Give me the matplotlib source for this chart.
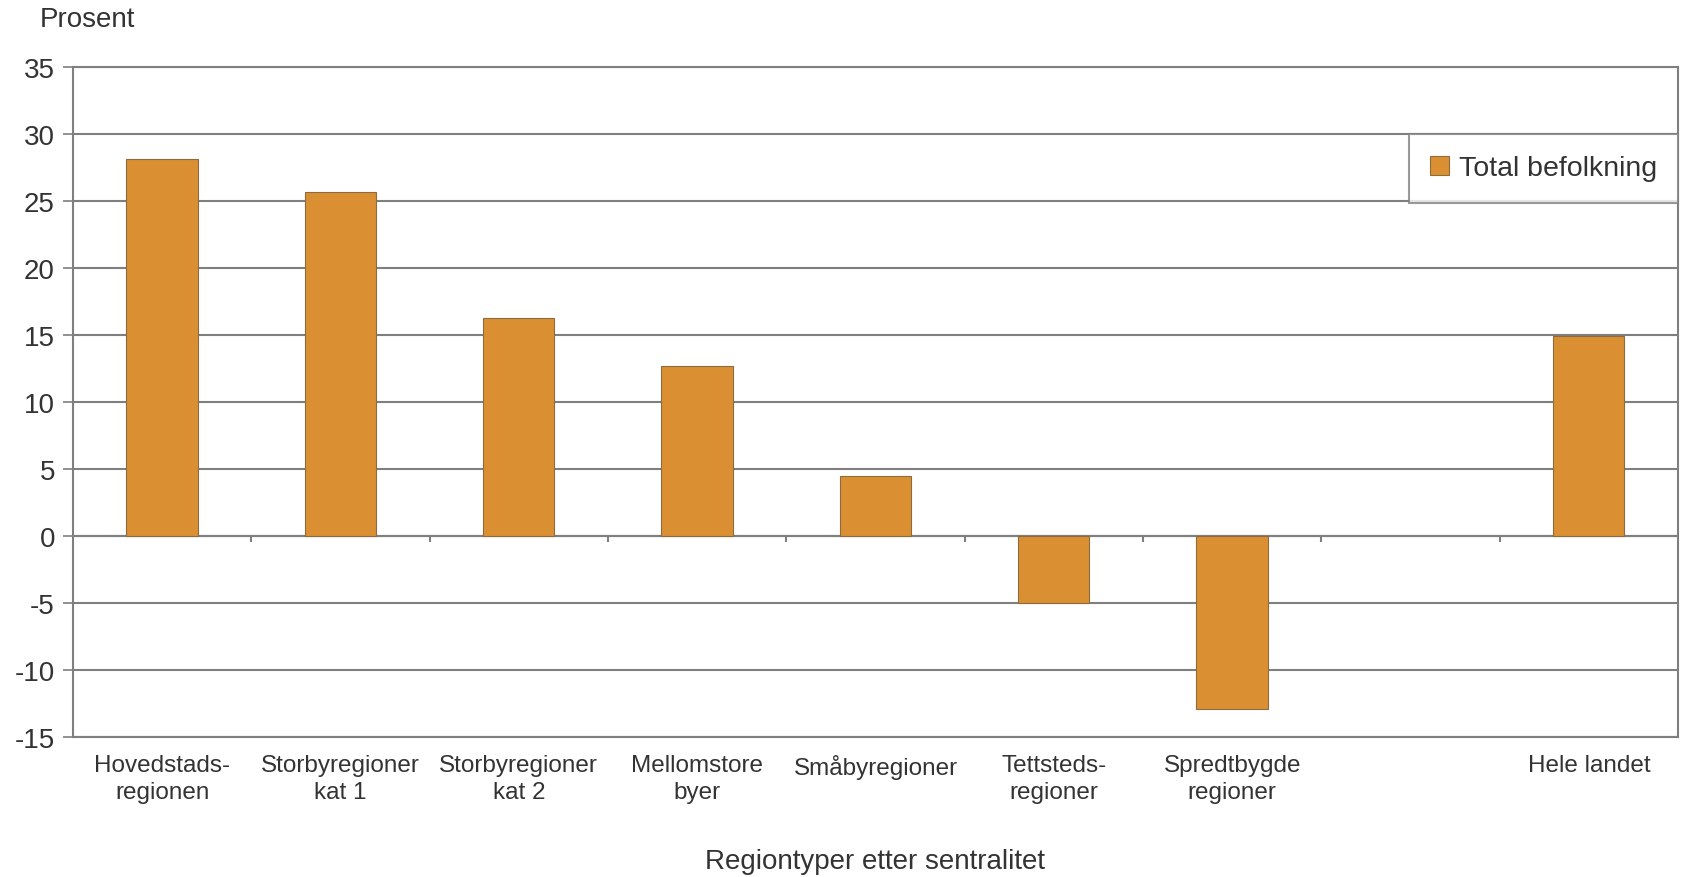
import numpy as np
import matplotlib.pyplot as plt

plt.rcParams['font.family'] = ['Liberation Sans', 'DejaVu Sans']

categories = ['Hovedstads-\nregionen', 'Storbyregioner\nkat 1', 'Storbyregioner\nkat 2',
              'Mellomstore\nbyer', 'Småbyregioner', 'Tettsteds-\nregioner',
              'Spredtbygde\nregioner', '', 'Hele landet']
values = [28.1, 25.7, 16.3, 12.7, 4.5, -5.0, -12.9, np.nan, 14.9]
yticks = [-15, -10, -5, 0, 5, 10, 15, 20, 25, 30, 35]
series_name = 'Total befolkning'

bar_color = '#DB8F33'
grid_color = '#7f7f7f'
text_color = '#333333'

fig = plt.figure(figsize=(16.83, 8.78), dpi=100)
ax = fig.add_axes([73 / 1683, 1 - 738 / 878, (1678 - 73) / 1683, (738 - 68) / 878])

x = np.arange(len(categories))
ax.bar(x, values, width=0.4, color=bar_color, edgecolor='#8c6b3c', linewidth=0.8,
       label=series_name, zorder=3)

ax.set_xlim(-0.5, len(categories) - 0.5)
ax.set_ylim(-15, 35)
ax.set_yticks(yticks)
ax.set_yticklabels([str(v) for v in yticks], fontsize=20, color=text_color)
ax.yaxis.grid(True, color=grid_color, linewidth=1.5, zorder=0)
ax.set_axisbelow(True)

ax.set_xticks(x)
ax.set_xticklabels(categories, fontsize=17.5, color=text_color, linespacing=1.3)
ax.tick_params(axis='x', length=0, pad=12)
ax.tick_params(axis='y', length=7, width=1.2, color=grid_color, pad=6, direction='out')

# category boundary ticks on the zero line
ax.axhline(0, color=grid_color, linewidth=1.5, zorder=2)
bounds = np.arange(len(categories) + 1) - 0.5
ax.vlines(bounds[1:-1], -0.45, 0, color=grid_color, linewidth=1.5, zorder=2)

for side in ['left', 'bottom', 'right', 'top']:
    ax.spines[side].set_color(grid_color)
    ax.spines[side].set_linewidth(1.5)

fig.text(0.5 * (73 + 1678) / 1683, 1 - 862 / 878, 'Regiontyper etter sentralitet',
         fontsize=20, color=text_color, ha='center', va='center')
fig.text(40 / 1683, 1 - 20 / 878, 'Prosent', fontsize=20, color=text_color,
         ha='left', va='center')

leg = ax.legend(loc='upper right', bbox_to_anchor=(1.0, 0.9), fontsize=20.5,
                frameon=True, fancybox=False, handlelength=0.65, handleheight=0.65,
                handletextpad=0.35, borderpad=0.75, borderaxespad=0,
                labelcolor=text_color)
leg.get_frame().set_edgecolor(grid_color)
leg.get_frame().set_linewidth(1.5)

fig.savefig('out.png', dpi=100, facecolor='white')
